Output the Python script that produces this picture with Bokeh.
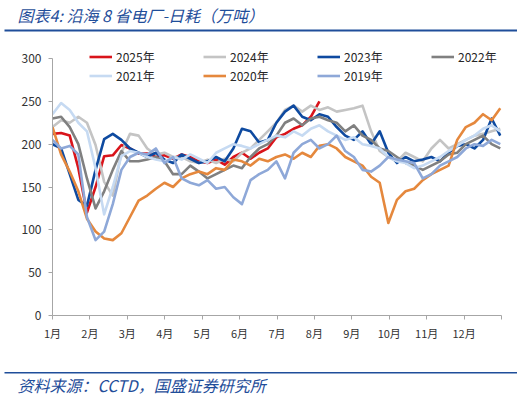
from bokeh.plotting import figure
from bokeh.layouts import column
from bokeh.models import Range1d, FixedTicker, Legend, LegendItem, Label, BoxAnnotation
from bokeh.embed import file_html
from bokeh.resources import INLINE

# ---- data (day of year, weekly samples) ----
days = list(range(1, 366, 7))
month_labels = ["1月", "2月", "3月", "4月", "5月", "6月", "7月", "8月", "9月", "10月", "11月", "12月"]
y_ticks = [0, 50, 100, 150, 200, 250, 300]

y2025 = [212, 213, 210, 172, 120, 150, 186, 187, 199, 195,
         189, 189, 186, 187, 183, 188, 185, 180, 178, 182,
         176, 185, 190, 183, 190, 195, 208, 212, 218, 222,
         232, 250]
y2024 = [220, 228, 225, 232, 225, 199, 156, 140, 190, 212,
         210, 195, 188, 190, 185, 185, 180, 178, 182, 178,
         183, 180, 190, 195, 205, 215, 225, 240, 245, 238,
         245, 240, 243, 238, 240, 242, 245, 215, 192, 185,
         180, 190, 185, 180, 195, 205, 195, 200, 205, 210,
         212, 215, 218]
y2023 = [200, 195, 165, 135, 128, 170, 206, 212, 205, 195,
         190, 185, 190, 182, 178, 188, 183, 178, 180, 185,
         180, 195, 218, 215, 202, 205, 225, 238, 245, 232,
         228, 235, 232, 220, 210, 205, 215, 200, 215, 190,
         178, 185, 180, 182, 185, 180, 190, 198, 200, 195,
         205, 230, 210]
y2022 = [230, 232, 220, 200, 160, 125, 145, 170, 192, 180,
         180, 182, 185, 180, 165, 165, 175, 168, 160, 165,
         170, 175, 172, 185, 195, 200, 210, 225, 230, 222,
         230, 232, 228, 225, 215, 222, 210, 205, 195, 192,
         185, 178, 175, 170, 175, 180, 188, 190, 200, 205,
         210, 200, 195]
y2021 = [235, 248, 240, 225, 215, 172, 118, 150, 186, 192,
         190, 185, 182, 180, 185, 182, 188, 183, 178, 190,
         195, 200, 198, 195, 200, 205, 210, 208, 215, 210,
         218, 222, 215, 210, 205, 208, 200, 198, 195, 185,
         180, 178, 172, 175, 180, 185, 192, 198, 205, 210,
         218, 222, 215]
y2020 = [220, 188, 168, 145, 113, 98, 90, 88, 96, 115,
         134, 140, 148, 155, 150, 160, 165, 168, 165, 172,
         170, 182, 180, 175, 183, 180, 185, 188, 183, 190,
         185, 198, 200, 195, 185, 180, 175, 162, 155, 108,
         135, 145, 148, 158, 165, 170, 175, 205, 220, 225,
         235, 228, 242]
y2019 = [205, 195, 198, 188, 115, 88, 98, 130, 170, 185,
         190, 188, 195, 178, 185, 160, 155, 152, 158, 148,
         150, 138, 130, 158, 165, 170, 180, 160, 190, 200,
         205, 195, 200, 210, 192, 185, 170, 168, 175, 185,
         182, 180, 178, 160, 165, 175, 180, 185, 195, 200,
         198, 205, 200]

series = [
    ("2025年", y2025, "#D9141B"),
    ("2024年", y2024, "#C4C4C4"),
    ("2023年", y2023, "#0E4AA0"),
    ("2022年", y2022, "#808080"),
    ("2021年", y2021, "#C6DAF2"),
    ("2020年", y2020, "#E5883D"),
    ("2019年", y2019, "#8EA8D8"),
]

FONT = "Noto Sans CJK SC"
BLUE = "#1F4E9A"
W = 517

# ---- title strip ----
t = figure(width=W, height=32, output_backend="svg", toolbar_location=None,
           x_range=Range1d(0, W), y_range=Range1d(0, 32), x_axis_type=None, y_axis_type=None,
           min_border=0, margin=0, frame_align=False)
t.grid.visible = False
t.outline_line_color = None
t.add_layout(Label(x=17, y=18, text="图表4: 沿海 8 省电厂-日耗（万吨）", text_font=FONT,
                   text_font_size="16px", text_font_style="italic", text_color=BLUE,
                   text_baseline="middle"))
t.add_layout(BoxAnnotation(left=4, right=W, bottom=1, top=3, fill_color=BLUE, fill_alpha=1,
                           line_color=None))

# ---- main chart ----
p = figure(width=W, height=332, output_backend="svg", toolbar_location=None,
           x_range=Range1d(1, 366), y_range=Range1d(0, 322.2),
           min_border_left=52, min_border_right=16, min_border_top=7, min_border_bottom=49,
           margin=0, frame_align=False)
p.grid.visible = False
p.outline_line_color = None

items = []
for name, ys, color in series:
    r = p.line(days[:len(ys)], ys, line_color=color, line_width=2.6, line_join="round")
    items.append(LegendItem(label=name, renderers=[r]))

month_ticks = [1 + m * 365 / 12 for m in range(13)]
p.xaxis.ticker = FixedTicker(ticks=month_ticks)
p.xaxis.major_label_overrides = {t_: (month_labels[i] if i < 12 else "") for i, t_ in enumerate(month_ticks)}
p.yaxis.ticker = FixedTicker(ticks=y_ticks)
p.yaxis.bounds = (0, 300)
for ax in (p.xaxis, p.yaxis):
    ax.axis_line_color = "#A6A6A6"
    ax.axis_line_width = 1
    ax.major_tick_line_color = "#A6A6A6"
    ax.major_tick_in = 0
    ax.major_tick_out = 4
    ax.minor_tick_line_color = None
    ax.major_label_text_font = FONT
    ax.major_label_text_color = "#333333"
p.yaxis.major_label_text_font_size = "12px"
p.xaxis.major_label_text_font_size = "11px"
p.yaxis.major_label_standoff = 7
p.xaxis.major_label_standoff = 5

common = dict(orientation="horizontal", glyph_width=23, glyph_height=19, label_height=19,
              label_width=40, label_standoff=4, spacing=47, padding=0, margin=0,
              border_line_color=None, background_fill_alpha=0,
              label_text_font=FONT, label_text_font_size="12px", label_text_color="#262626")
p.add_layout(Legend(items=items[:4], location=(37, 249.5), **common))
p.add_layout(Legend(items=items[4:], location=(37, 230.5), **common))

# ---- source strip ----
s = figure(width=W, height=32, output_backend="svg", toolbar_location=None,
           x_range=Range1d(0, W), y_range=Range1d(0, 32), x_axis_type=None, y_axis_type=None,
           min_border=0, margin=0, frame_align=False)
s.grid.visible = False
s.outline_line_color = None
s.add_layout(BoxAnnotation(left=4, right=W, bottom=23, top=24.5, fill_color=BLUE, fill_alpha=1,
                           line_color=None))
s.add_layout(Label(x=17, y=12, text="资料来源：CCTD，国盛证券研究所", text_font=FONT,
                   text_font_size="16px", text_font_style="italic", text_color=BLUE,
                   text_baseline="middle"))

layout = column(t, p, s, spacing=0)
open("out.html", "w").write(file_html(layout, INLINE))
